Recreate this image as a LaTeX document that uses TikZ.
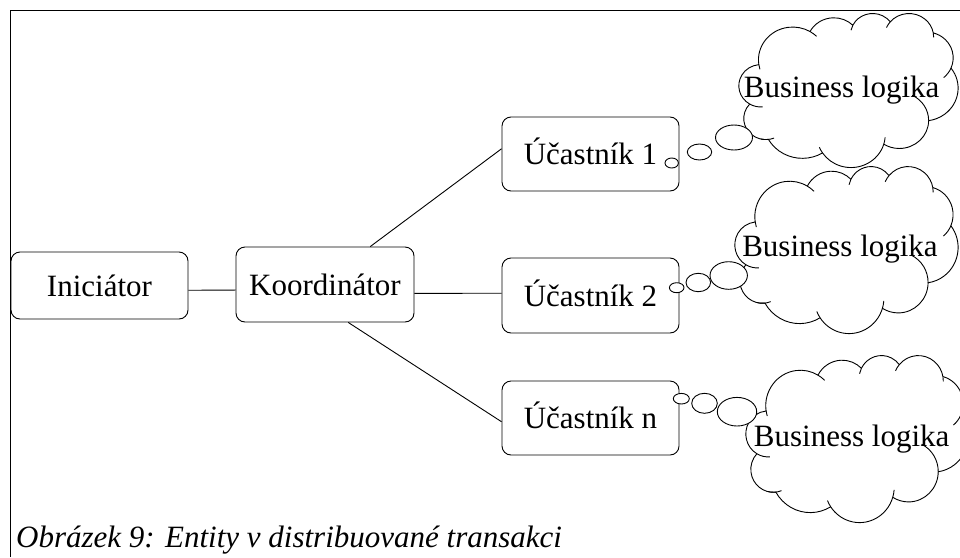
\documentclass[tikz,border=0pt]{standalone}
\usepackage{fontspec}
\setmainfont{Liberation Serif}
\usetikzlibrary{calc}

% Cloud outline in a 43.2 x 43.2 box (y pointing down), plus the short
% inner arcs that continue the puffs at their joints.
\newcommand\cloudoutline{%
  \draw[cloudline, fill=white] (3.9,14.37)
    arc[start angle=172.25, delta angle=128.11, x radius=6.753, y radius=9.19]
    arc[start angle=-152.02, delta angle=106.58, x radius=5.333, y radius=7.267]
    arc[start angle=-153.50, delta angle=116.16, x radius=4.365, y radius=5.945]
    arc[start angle=-139.72, delta angle=129.50, x radius=4.857, y radius=6.595]
    arc[start angle=-74.77, delta angle=97.98, x radius=5.333, y radius=7.273]
    arc[start angle=-37.53, delta angle=119.39, x radius=6.775, y radius=9.22]
    arc[start angle=0.46, delta angle=121.53, x radius=5.785, y radius=7.867]
    arc[start angle=16.84, delta angle=129.40, x radius=6.752, y radius=9.215]
    arc[start angle=58.98, delta angle=91.22, x radius=7.72, y radius=10.543]
    arc[start angle=83.31, delta angle=139.80, x radius=4.36, y radius=5.918]
    arc[start angle=120.36, delta angle=143.75, x radius=4.345, y radius=5.945]
    -- cycle;
  \draw[cloudline]
    (4.645,26.344) arc[start angle=85.54, end angle=120.36, x radius=4.345, y radius=5.945]
    (6.913,35.084) arc[start angle=68.22, end angle=103.17, x radius=4.36, y radius=5.918]
    (16.480,39.262) arc[start angle=146.24, end angle=157.65, x radius=6.752, y radius=9.215]
    (28.822,34.902) arc[start angle=4.74, end angle=16.84, x radius=6.752, y radius=9.215]
    (34.154,23.066) arc[start angle=-64.03, end angle=0.46, x radius=5.785, y radius=7.867]
    (41.819,15.458) arc[start angle=23.21, end angle=49.65, x radius=5.333, y radius=7.273]
    (38.318,5.574) arc[start angle=-10.22, end angle=0.82, x radius=4.857, y radius=6.595]
    (29.091,4.092) arc[start angle=-156.29, end angle=-139.72, x radius=4.857, y radius=6.595]
    (22.098,4.821) arc[start angle=-167.72, end angle=-153.50, x radius=4.365, y radius=5.945]
    (14.005,5.202) arc[start angle=-59.64, end angle=-45.74, x radius=6.753, y radius=9.19]
    (4.127,15.789) arc[start angle=163.19, end angle=172.25, x radius=6.753, y radius=9.19];
}

\tikzset{
  cloudline/.style={line width=0.9pt, line join=round},
  frameline/.style={line width=1.3pt},
  link/.style={line width=0.9pt},
  entity/.style={draw, line width=0.9pt, rounded corners=9pt, fill=white,
    inner sep=0pt, minimum width=177pt,
    font=\fontsize{31}{36}\selectfont, text height=22pt, text depth=1pt},
  bubble/.style={draw, line width=0.9pt, fill=white},
  cloudtext/.style={anchor=base, inner sep=0pt, font=\fontsize{31}{36}\selectfont},
}

\begin{document}
\begin{tikzpicture}[x=1pt, y=-1pt]
  \useasboundingbox (0,0) rectangle (960,557);
  \clip (0,0) rectangle (960,557);

  % frame edges
  \draw[frameline] (10.5,557) -- (10.5,10.5) -- (962,10.5);

  % entities
  \node[entity, minimum height=67pt] (init) at (99.5,285.5) {Iniciátor};
  \node[entity, minimum width=178pt, minimum height=75pt] (koord) at (325,284.5) {Koordinátor};
  \node[entity, minimum height=74pt] (u1) at (590.5,154) {Účastník 1};
  \node[entity, minimum height=75pt] (u2) at (590.5,295.5) {Účastník 2};
  \node[entity, minimum height=74pt] (un) at (590.5,418) {Účastník n};

  % connections
  \draw[link] ($(init.north east)!0.57!(init.south east)$) -- ($(koord.north west)!0.573!(koord.south west)$);
  \draw[link] ($(koord.north west)!0.753!(koord.north east)$) -- ($(u1.north west)!0.43!(u1.south west)$);
  \draw[link] ($(koord.north east)!0.617!(koord.south east)$) -- ($(u2.north west)!0.47!(u2.south west)$);
  \draw[link] ($(koord.south west)!0.63!(koord.south east)$) -- ($(un.north west)!0.55!(un.south west)$);

  % thought clouds
  \begin{scope}[shift={(739,13)}, xscale=5.0694, yscale=3.5648]
    \cloudoutline
  \end{scope}
  \begin{scope}[shift={(735,166)}, xscale=5.162, yscale=3.8657]
    \cloudoutline
  \end{scope}
  \begin{scope}[shift={(746,355)}, xscale=5.1389, yscale=3.8657]
    \cloudoutline
  \end{scope}

  % thought bubbles
  \draw[bubble] (671.7,163) ellipse[x radius=6.7, y radius=5];
  \draw[bubble] (699.5,152) ellipse[x radius=12.2, y radius=8];
  \draw[bubble] (734,137.5) ellipse[x radius=18.5, y radius=12.5];

  \draw[bubble] (676.7,287.7) ellipse[x radius=7.3, y radius=5];
  \draw[bubble] (698.3,282.5) ellipse[x radius=12.3, y radius=9.2];
  \draw[bubble] (728.7,275.5) ellipse[x radius=18.7, y radius=13.8];

  \draw[bubble] (681.3,398.7) ellipse[x radius=8, y radius=5.3];
  \draw[bubble] (704.5,403.3) ellipse[x radius=12.8, y radius=10];
  \draw[bubble] (737,411.7) ellipse[x radius=19.7, y radius=14.3];

  % cloud labels
  \node[cloudtext] (t1) at (841.7,97.7) {Business logika};
  \node[cloudtext] (t2) at (840,256.7) {Business logika};
  \node[cloudtext] (t3) at (851.7,446.7) {Business logika};

  % caption
  \node[anchor=base west, inner sep=0pt, font=\fontsize{31}{36}\selectfont\itshape]
    (caption) at (16,547) {Obrázek 9: Entity v distribuované transakci};
\end{tikzpicture}
\end{document}
